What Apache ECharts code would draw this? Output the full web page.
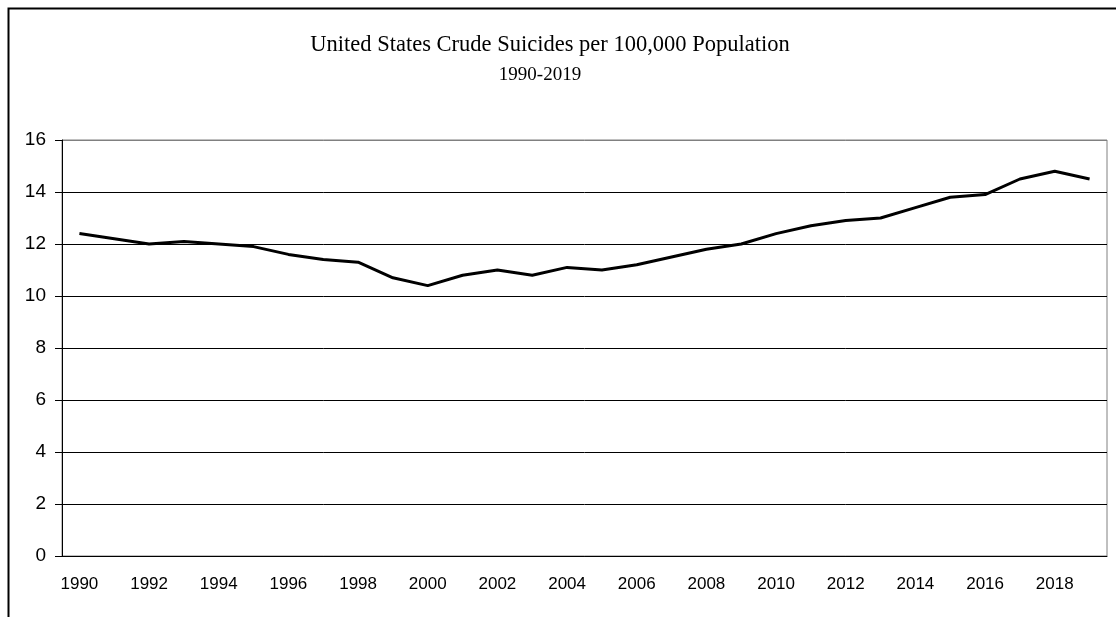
<!DOCTYPE html>
<html>
<head>
<meta charset="utf-8">
<script src="https://cdn.jsdelivr.net/npm/echarts@6/dist/echarts.min.js"></script>
<style>
  html, body { margin: 0; padding: 0; background: #fff; }
  #chart { width: 1116px; height: 617px; }
</style>
</head>
<body>
<div id="chart"></div>
<script>
const years = [];
for (let y = 1990; y <= 2019; y++) years.push(String(y));

// crude suicide rate per 100,000
const rates = [
  12.4, 12.2, 12.0, 12.1, 12.0, 11.9, 11.6, 11.4, 11.3, 10.7,
  10.4, 10.8, 11.0, 10.8, 11.1, 11.0, 11.2, 11.5, 11.8, 12.0,
  12.4, 12.7, 12.9, 13.0, 13.4, 13.8, 13.9, 14.5, 14.8, 14.5
];

const titleText = "United States Crude Suicides per 100,000 Population";
const subText = "1990-2019";

// gridlines 0..16, top one gray like the plot border
const gridColors = ["#000", "#000", "#000", "#000", "#000", "#000", "#000", "#000", "#808080"];

const chart = echarts.init(document.getElementById("chart"), null, { renderer: "canvas" });

const option = {
  backgroundColor: "#fff",
  animation: false,
  title: [
    {
      text: titleText,
      left: 545,
      top: 29,
      textAlign: "center",
      textStyle: {
        fontFamily: "Liberation Serif, Times New Roman, serif",
        fontWeight: "normal",
        fontSize: 22.5,
        color: "#000",
      },
    },
    {
      text: subText,
      left: 535,
      top: 61,
      textAlign: "center",
      textStyle: {
        fontFamily: "Liberation Serif, Times New Roman, serif",
        fontWeight: "normal",
        fontSize: 19,
        color: "#000",
      },
    },
  ],
  graphic: [
    {
      type: "rect",
      left: 6,
      top: 6,
      shape: { width: 1200, height: 700 },
      style: { fill: "none", stroke: "#000", lineWidth: 2 },
      silent: true,
    },
  ],
  grid: {
    left: 62,
    right: 9,
    top: 140,
    bottom: 61,
    show: true,
    backgroundColor: "#fff",
    borderColor: "#808080",
    borderWidth: 1,
  },
  xAxis: {
    type: "category",
    data: years,
    boundaryGap: true,
    axisLine: { lineStyle: { color: "#000", width: 1 } },
    axisTick: {
      interval: 0,
      length: 6,
      lineStyle: { color: "#000" },
    },
    axisLabel: {
      interval: 1,
      margin: 20,
      fontFamily: "Liberation Sans, Arial, sans-serif",
      fontSize: 17,
      color: "#000",
    },
    splitLine: { show: false },
  },
  yAxis: {
    type: "value",
    min: 0,
    max: 16,
    interval: 2,
    axisLine: { show: true, lineStyle: { color: "#000", width: 1 } },
    axisTick: { show: true, length: 7, lineStyle: { color: "#000" } },
    axisLabel: {
      margin: 16,
      padding: [5, 0, 0, 0],
      fontFamily: "Liberation Sans, Arial, sans-serif",
      fontSize: 19,
      color: "#000",
    },
    splitLine: {
      show: true,
      lineStyle: { color: gridColors, width: 1 },
    },
  },
  series: [
    {
      type: "line",
      data: rates,
      symbol: "none",
      smooth: false,
      lineStyle: { color: "#000", width: 3 },
      z: 5,
    },
  ],
};

chart.setOption(option);
</script>
</body>
</html>
